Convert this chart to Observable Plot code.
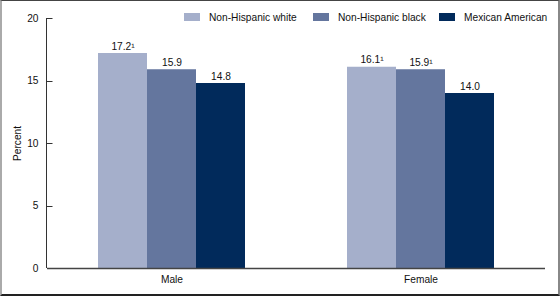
<!DOCTYPE html>
<html>
<head>
<meta charset="utf-8">
<script src="https://cdn.jsdelivr.net/npm/d3@7"></script>
<script src="https://cdn.jsdelivr.net/npm/@observablehq/plot@0.6"></script>
<style>
  html, body { margin: 0; padding: 0; background: #fff; }
  #wrap { position: relative; width: 560px; height: 296px; overflow: hidden; font-family: "Liberation Sans", Arial, sans-serif; }
  #border { position: absolute; left: 0; top: 0; width: 560px; height: 296px; box-sizing: border-box;
            border-top: 1px solid #444; border-left: 2px solid #aaa; border-right: 2px solid #888; border-bottom: 2px solid #222; pointer-events: none; }
  #legend { position: absolute; top: 11px; left: 0; font-size: 10.2px; color: #111; }
  #legend .item { position: absolute; top: 0; display: flex; align-items: center; gap: 9px; height: 12px; white-space: nowrap; }
  #legend .sw { width: 16px; height: 8px; }
</style>
</head>
<body>
<div id="wrap">
  <div id="chart"></div>
  <div id="legend"></div>
  <div id="border"></div>
</div>
<script>
// Sex groups and race/ethnicity series
const sexes = ["Male", "Female"];
const groups = ["Non-Hispanic white", "Non-Hispanic black", "Mexican American"];
const maleValues = [17.2, 15.9, 14.8];
const femaleValues = [16.1, 15.9, 14.0];
// Footnote markers attached to value labels
const maleNotes = ["1", "", ""];
const femaleNotes = ["1", "1", ""];
const colors = ["#a5afcb", "#64769e", "#012a5b"];
const yTicks = [0, 5, 10, 15, 20];

const sup = { "1": "\u00b9", "": "" };
const rows = [];
groups.forEach((g, i) => {
  rows.push({ sex: "Male", group: g, value: maleValues[i], note: maleNotes[i] });
  rows.push({ sex: "Female", group: g, value: femaleValues[i], note: femaleNotes[i] });
});

const plot = Plot.plot({
  width: 560,
  height: 296,
  marginLeft: 46,
  marginRight: 15,
  marginTop: 18,
  marginBottom: 28,
  style: { fontFamily: "'Liberation Sans', Arial, sans-serif", fontSize: "10.2px", color: "#111", background: "white" },
  fx: { domain: sexes, padding: 0, label: null, axis: "bottom", tickSize: 0, tickPadding: 7 },
  x: { domain: groups, axis: null, paddingInner: 0, paddingOuter: 1 },
  y: { domain: [0, 20], ticks: yTicks, tickSize: 0, tickPadding: 9, label: "Percent", labelAnchor: "center", labelArrow: "none", labelOffset: 34 },
  color: { domain: groups, range: colors },
  marks: [
    Plot.barY(rows, { fx: "sex", x: "group", y: "value", fill: "group" }),
    Plot.text(rows, {
      fx: "sex", x: "group", y: "value",
      text: d => d.value.toFixed(1) + sup[d.note],
      lineAnchor: "bottom", dy: -4, fill: "#111"
    }),
    Plot.ruleY([0], { stroke: "#444", strokeWidth: 1.5 })
  ]
});

// Vertical y-axis line with inward-pointing ticks on the left edge of the plot area
const y = plot.scale("y");
const axisX = 46.5;
const g = d3.select(plot).append("g").attr("stroke", "#333").attr("stroke-width", 1);
g.append("line")
  .attr("x1", axisX).attr("x2", axisX)
  .attr("y1", y.apply(0)).attr("y2", y.apply(20));
g.selectAll(".tk").data(yTicks.filter(t => t > 0)).join("line")
  .attr("x1", axisX).attr("x2", axisX + 6)
  .attr("y1", t => Math.round(y.apply(t)) + 0.5).attr("y2", t => Math.round(y.apply(t)) + 0.5);

document.getElementById("chart").append(plot);

// Legend row: left edge of each entry
const legendLefts = [184, 313, 439];
const legend = d3.select("#legend");
groups.forEach((g, i) => {
  const item = legend.append("div").attr("class", "item").style("left", legendLefts[i] + "px");
  item.append("div").attr("class", "sw").style("background", colors[i]);
  item.append("span").text(g);
});
</script>
</body>
</html>
